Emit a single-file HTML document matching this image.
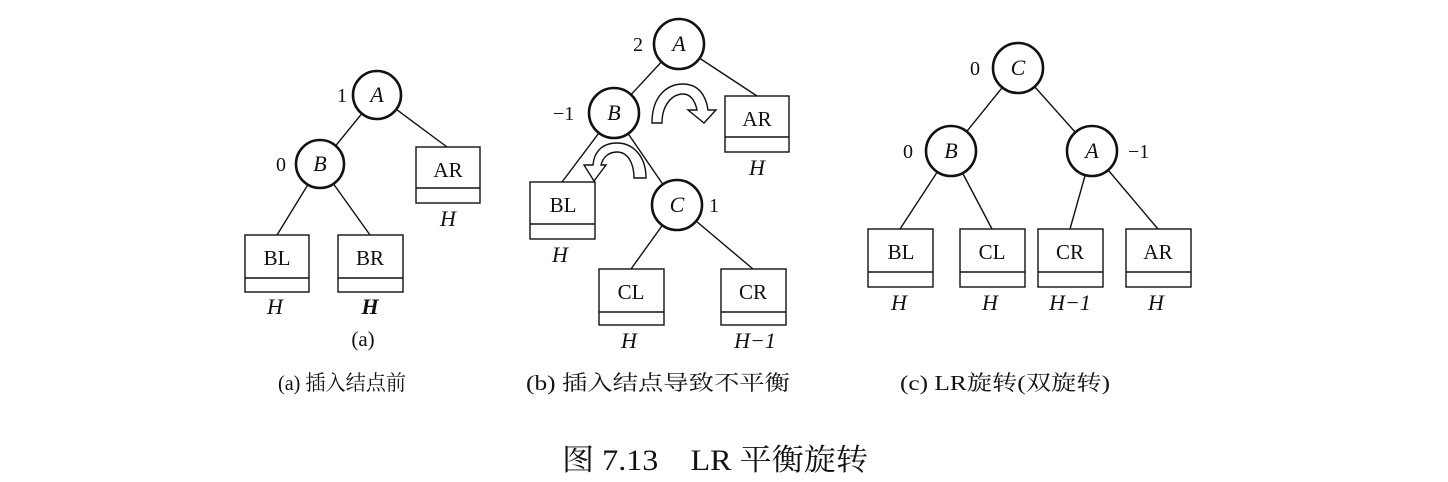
<!DOCTYPE html>
<html><head><meta charset="utf-8"><style>
html,body{margin:0;padding:0;background:#fff;}
svg{display:block;}
text{font-family:"Liberation Serif","Noto Serif CJK SC",serif;fill:#111;}
.c{fill:#fff;stroke:#111;stroke-width:2.6;}
.b{fill:#fff;stroke:#111;stroke-width:1.4;}
.l{stroke:#111;stroke-width:1.4;fill:none;}
.lab{font-size:21px;text-anchor:middle;}
.it{font-style:italic;font-size:22px;text-anchor:middle;}
.n{font-size:20px;}
.cap{font-size:21px;}
</style></head><body>
<svg width="1448" height="482" viewBox="0 0 1448 482" xmlns="http://www.w3.org/2000/svg">
<!-- Panel a -->
<line class="l" x1="377" y1="95" x2="320" y2="165"/>
<line class="l" x1="377" y1="95" x2="447" y2="147"/>
<line class="l" x1="320" y1="165" x2="277" y2="235"/>
<line class="l" x1="320" y1="165" x2="370" y2="235"/>
<circle class="c" cx="377" cy="95" r="24"/>
<circle class="c" cx="320" cy="164" r="24"/>
<text class="it" x="377" y="102">A</text>
<text class="it" x="320" y="171">B</text>
<text class="n" x="337" y="102">1</text>
<text class="n" x="276" y="171">0</text>
<rect class="b" x="416" y="147" width="64" height="56"/><line class="l" x1="416" y1="188" x2="480" y2="188"/>
<text class="lab" x="448" y="177">AR</text><text class="it" x="448" y="226">H</text>
<rect class="b" x="245" y="235" width="64" height="57"/><line class="l" x1="245" y1="278" x2="309" y2="278"/>
<text class="lab" x="277" y="265">BL</text><text class="it" x="275" y="314">H</text>
<rect class="b" x="338" y="235" width="65" height="57"/><line class="l" x1="338" y1="278" x2="403" y2="278"/>
<text class="lab" x="370" y="265">BR</text><text class="it" x="370" y="314" font-weight="bold">H</text>
<text class="cap" x="363" y="346" text-anchor="middle">(a)</text>
<text class="cap" x="278" y="390" textLength="128" lengthAdjust="spacingAndGlyphs">(a) 插入结点前</text>
<!-- Panel b -->
<line class="l" x1="678" y1="44" x2="614" y2="113"/>
<line class="l" x1="678" y1="44" x2="757" y2="96"/>
<line class="l" x1="614" y1="113" x2="562" y2="182"/>
<line class="l" x1="614" y1="113" x2="677" y2="205"/>
<line class="l" x1="677" y1="205" x2="631" y2="269"/>
<line class="l" x1="677" y1="205" x2="753" y2="269"/>
<circle class="c" cx="679" cy="44" r="25"/>
<circle class="c" cx="614" cy="113" r="25"/>
<circle class="c" cx="677" cy="205" r="25"/>
<text class="it" x="679" y="51">A</text>
<text class="it" x="614" y="120">B</text>
<text class="it" x="677" y="212">C</text>
<text class="n" x="633" y="51">2</text>
<text class="n" x="553" y="120">−1</text>
<text class="n" x="709" y="212">1</text>
<path class="b" d="M652,123 C652,95 668,84 683,84 C698,84 706,95 708,110 L716,110 L704,123 L688,110 L697,110 C695,100 690,94 683,94 C673,94 662,104 662,123 Z"/>
<path class="b" d="M646,178 C646,155 632,143 617,143 C602,143 594,152 593,165 L584,165 L594,181 L606,165 L601,165 C603,157 609,152 617,152 C627,152 634,162 634,178 Z"/>
<rect class="b" x="725" y="96" width="64" height="56"/><line class="l" x1="725" y1="137" x2="789" y2="137"/>
<text class="lab" x="757" y="126">AR</text><text class="it" x="757" y="175">H</text>
<rect class="b" x="530" y="182" width="65" height="57"/><line class="l" x1="530" y1="224" x2="595" y2="224"/>
<text class="lab" x="563" y="212">BL</text><text class="it" x="560" y="262">H</text>
<rect class="b" x="599" y="269" width="65" height="56"/><line class="l" x1="599" y1="312" x2="664" y2="312"/>
<text class="lab" x="631" y="299">CL</text><text class="it" x="629" y="348">H</text>
<rect class="b" x="721" y="269" width="65" height="56"/><line class="l" x1="721" y1="312" x2="786" y2="312"/>
<text class="lab" x="753" y="299">CR</text><text class="it" x="755" y="348">H−1</text>
<text class="cap" x="526" y="390" textLength="264" lengthAdjust="spacingAndGlyphs">(b) 插入结点导致不平衡</text>
<!-- Panel c -->
<line class="l" x1="1018" y1="68" x2="951" y2="151"/>
<line class="l" x1="1018" y1="68" x2="1092" y2="151"/>
<line class="l" x1="951" y1="151" x2="900" y2="229"/>
<line class="l" x1="951" y1="151" x2="992" y2="229"/>
<line class="l" x1="1092" y1="151" x2="1070" y2="229"/>
<line class="l" x1="1092" y1="151" x2="1158" y2="229"/>
<circle class="c" cx="1018" cy="68" r="25"/>
<circle class="c" cx="951" cy="151" r="25"/>
<circle class="c" cx="1092" cy="151" r="25"/>
<text class="it" x="1018" y="75">C</text>
<text class="it" x="951" y="158">B</text>
<text class="it" x="1092" y="158">A</text>
<text class="n" x="970" y="75">0</text>
<text class="n" x="903" y="158">0</text>
<text class="n" x="1128" y="158">−1</text>
<rect class="b" x="868" y="229" width="65" height="58"/><line class="l" x1="868" y1="272" x2="933" y2="272"/>
<text class="lab" x="901" y="259">BL</text><text class="it" x="899" y="310">H</text>
<rect class="b" x="960" y="229" width="65" height="58"/><line class="l" x1="960" y1="272" x2="1025" y2="272"/>
<text class="lab" x="992" y="259">CL</text><text class="it" x="990" y="310">H</text>
<rect class="b" x="1038" y="229" width="65" height="58"/><line class="l" x1="1038" y1="272" x2="1103" y2="272"/>
<text class="lab" x="1070" y="259">CR</text><text class="it" x="1070" y="310">H−1</text>
<rect class="b" x="1126" y="229" width="65" height="58"/><line class="l" x1="1126" y1="272" x2="1191" y2="272"/>
<text class="lab" x="1158" y="259">AR</text><text class="it" x="1156" y="310">H</text>
<text class="cap" x="900" y="390" textLength="210" lengthAdjust="spacingAndGlyphs">(c) LR旋转(双旋转)</text>
<!-- Title -->
<text x="562" y="470" font-size="30" textLength="306" lengthAdjust="spacingAndGlyphs">图 7.13　LR 平衡旋转</text>
</svg>
</body></html>
